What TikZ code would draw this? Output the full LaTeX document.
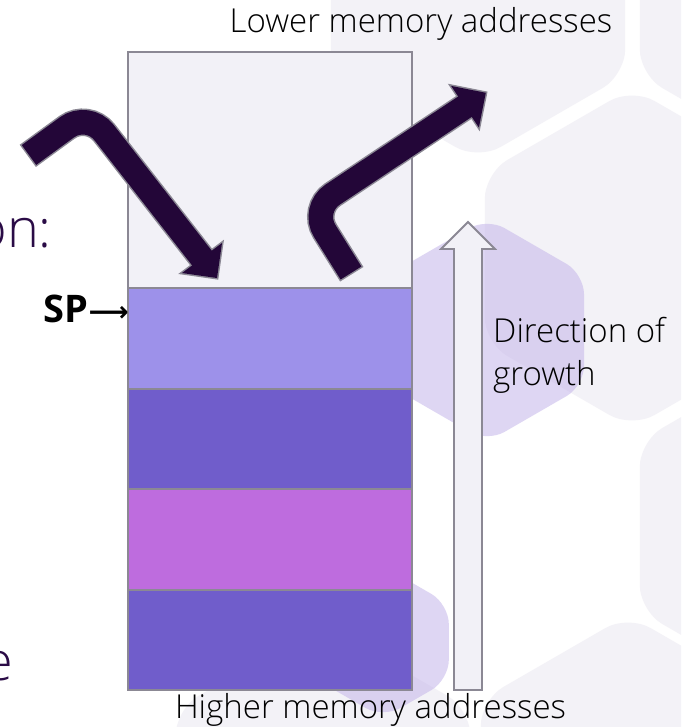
\documentclass[tikz,border=0pt]{standalone}
\usepackage{fontspec}
\setmainfont{Open Sans}[UprightFont={* Light}, BoldFont={* Bold}]
\newfontfamily\symfont{DejaVu Sans}
\usetikzlibrary{calc}
\definecolor{hexgray}{HTML}{F3F2F7}
\definecolor{hexpurple}{HTML}{C4B5EA}
\definecolor{freecol}{HTML}{F2F1F7}
\definecolor{cellA}{HTML}{9D91EA}
\definecolor{cellB}{HTML}{705DCB}
\definecolor{cellC}{HTML}{BE6CDE}
\definecolor{edgegray}{HTML}{8B8894}
\definecolor{arrowdark}{HTML}{230638}
\definecolor{slidetext}{HTML}{2A0B46}
\newcommand{\hexat}[4]{%
  \fill[#1, shift={(#2,#3)}] (90:#4) -- (30:#4) -- (-30:#4) -- (-90:#4) -- (-150:#4) -- (150:#4) -- cycle;}
\tikzset{
  graytile/.style={fill=hexgray, rounded corners=26pt},
  purpletile/.style={fill=hexpurple, fill opacity=0.55, rounded corners=20pt},
  cellbox/.style={draw=edgegray, line width=2pt, minimum width=284pt, inner sep=0pt, outer sep=0pt},
  growth/.style={draw=edgegray, line width=1.8pt, fill=freecol, line join=miter},
  bigshaft/.style={draw=arrowdark, line width=24.5pt, rounded corners=26pt,
    preaction={draw=edgegray, line width=27.5pt, shorten <=-1.5pt}},
  bighead/.style={fill=arrowdark},
  bigheadedge/.style={draw=edgegray, line width=3pt, line join=miter},
  lbl/.style={inner sep=0pt, text=black, font=\fontsize{33}{38}\selectfont},
  slide/.style={inner sep=0pt, text=slidetext, font=\fontsize{54}{60}\selectfont},
}
\begin{document}
\begin{tikzpicture}[x=1pt, y=-1pt]
\useasboundingbox (0,0) rectangle (681,727);
\clip (0,0) rectangle (681,727);
\fill[white] (0,0) rectangle (681,727);
% background tiles
\hexat{graytile}{478}{-10}{170}
\hexat{graytile}{787}{-10}{170}
\hexat{graytile}{632}{258}{170}
\hexat{graytile}{787}{526}{170}
\hexat{graytile}{628}{785}{170}
\hexat{graytile}{323}{794}{170}
\hexat{purpletile}{487}{330}{112}
\hexat{purpletile}{383}{642}{76}
% slide text fragments
\node[slide, anchor=base east] (frag1) at (52,247) {on:};
\node[slide, anchor=base east] (frag2) at (13,680) {e};
% stack
\node[cellbox, fill=freecol, minimum height=236pt] (free) at (270,170) {};
\node[cellbox, fill=cellA, minimum height=100.5pt] (c1) at (270,338.25) {};
\node[cellbox, fill=cellB, minimum height=100.5pt] (c2) at (270,438.75) {};
\node[cellbox, fill=cellC, minimum height=100.5pt] (c3) at (270,539.25) {};
\node[cellbox, fill=cellB, minimum height=100.5pt] (c4) at (270,639.75) {};
% direction of growth arrow
\draw[growth] (454,690) -- (454,249) -- (441,249) -- (468,222) -- (495,249) -- (482,249) -- (482,690) -- cycle;
% push arrow
\coordinate (a1t) at (29,155);
\coordinate (a1k) at (88,112);
\coordinate (a1b) at (204.4,261.2);
\coordinate (a1w1) at (182,273);
\coordinate (a1p) at (217,278);
\coordinate (a1w2) at (222,243);
\draw[bigheadedge] (a1w1) -- (a1p) -- (a1w2) -- cycle;
\draw[bigshaft] (a1t) -- (a1k) -- (a1b);
\fill[bighead] (a1w1) -- (a1p) -- (a1w2) -- cycle;
% pop arrow
\coordinate (a2t) at (351,273);
\coordinate (a2k) at (311,209);
\coordinate (a2b) at (468.3,104.5);
\coordinate (a2w1) at (478.9,127.5);
\coordinate (a2p) at (485.8,92.8);
\coordinate (a2w2) at (451.1,85.9);
\draw[bigheadedge] (a2w1) -- (a2p) -- (a2w2) -- cycle;
\draw[bigshaft] (a2t) -- (a2k) -- (a2b);
\fill[bighead] (a2w1) -- (a2p) -- (a2w2) -- cycle;
% labels
\node[lbl, anchor=base] (low) at (421,33) {Lower memory addresses};
\node[lbl, anchor=base] (high) at (370.5,718) {Higher memory addresses};
\node[lbl, anchor=base west] (dir1) at (493,342) {Direction of};
\node[lbl, anchor=base west] (dir2) at (493,385) {growth};
\node[inner sep=0pt, anchor=base east] (sp) at (129,322) {\fontsize{38}{40}\selectfont\bfseries SP{\symfont\fontsize{28}{30}\selectfont\raisebox{1pt}{⟶}}};
\end{tikzpicture}
\end{document}
